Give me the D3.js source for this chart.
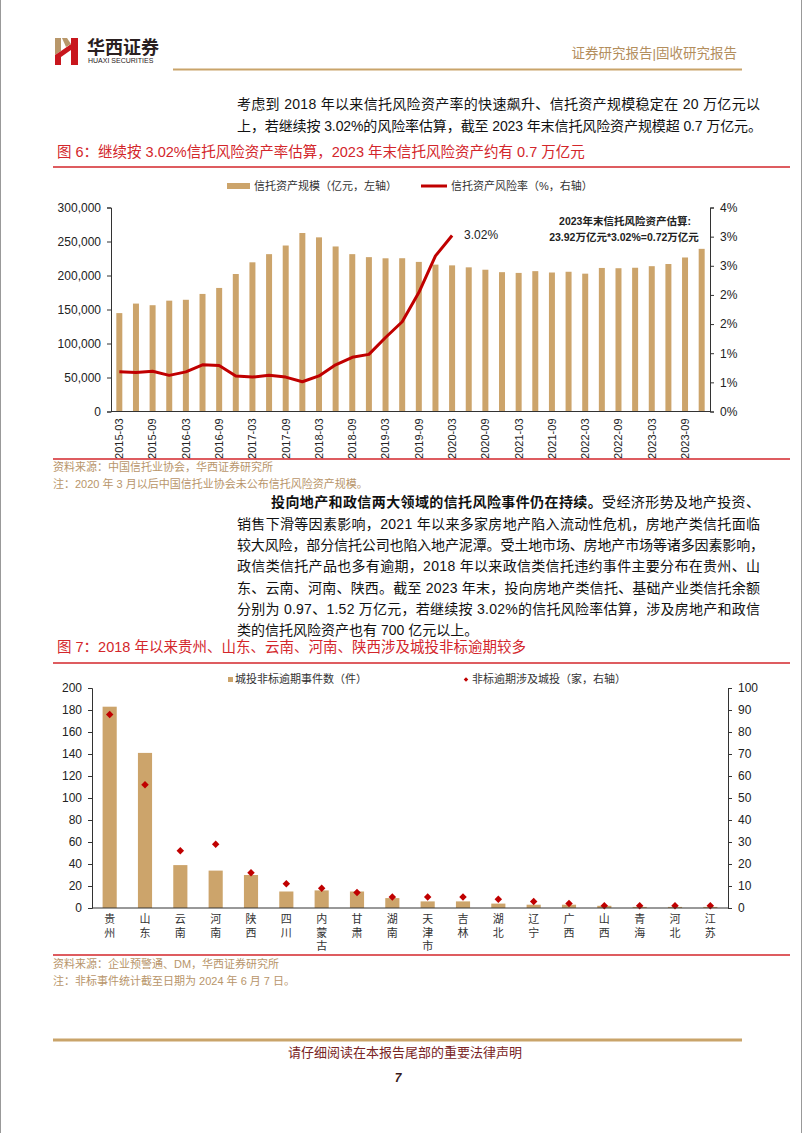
<!DOCTYPE html>
<html>
<head>
<meta charset="utf-8">
<script src="https://cdn.jsdelivr.net/npm/d3@7"></script>
<style>
  body { margin: 0; background: #fff; }
  svg { display: block; }
  text { font-family: "Liberation Sans", "Noto Sans CJK SC", sans-serif; }
</style>
</head>
<body>
<div id="page"></div>
<script>
// DATA — figure 6
const quarters = ["2015-03","2015-06","2015-09","2015-12","2016-03","2016-06","2016-09","2016-12",
  "2017-03","2017-06","2017-09","2017-12","2018-03","2018-06","2018-09","2018-12",
  "2019-03","2019-06","2019-09","2019-12","2020-03","2020-06","2020-09","2020-12",
  "2021-03","2021-06","2021-09","2021-12","2022-03","2022-06","2022-09","2022-12",
  "2023-03","2023-06","2023-09","2023-12"];
const quarterTicks = ["2015-03","2015-09","2016-03","2016-09","2017-03","2017-09","2018-03","2018-09",
  "2019-03","2019-09","2020-03","2020-09","2021-03","2021-09","2022-03","2022-09","2023-03","2023-09"];
// 信托资产规模（亿元）
const trustAssets = [144700,158700,156300,163000,164300,172900,181700,202200,
  219400,231400,244100,262500,256100,242700,231400,227000,
  225300,225400,220000,216000,214900,212000,208500,204900,
  203800,206400,204400,205500,202700,211100,210700,211400,
  213700,216900,226500,239200];
// 信托资产风险率（%），到 2020-03 为止
const riskRate = [0.68,0.67,0.69,0.62,0.68,0.80,0.79,0.61,0.59,0.62,0.59,0.51,
  0.61,0.80,0.93,0.98,1.27,1.54,2.04,2.67,3.02];
const leftTicks = [0,50000,100000,150000,200000,250000,300000];
const rightTicks = [0,0.5,1,1.5,2,2.5,3,3.5];

// DATA — figure 7
const provinces = ["贵州","山东","云南","河南","陕西","四川","内蒙古","甘肃","湖南",
  "天津市","吉林","湖北","辽宁","广西","山西","青海","河北","江苏"];
const eventCounts = [183,141,39,34,30,15,16,15,9,6,6,4,3,3,2,1,1,1];   // 件，左轴
const cityInvest = [88,56,26,29,16,11,9,7,5,5,5,4,3,2,1,1,1,1];        // 家，右轴
const leftTicks2 = [0,20,40,60,80,100,120,140,160,180,200];
const rightTicks2 = [0,10,20,30,40,50,60,70,80,90,100];

// COLOURS
const gold = "#cca46b", red = "#c00000", titleRed = "#d3262b", tan = "#b8956a", ink = "#222";

const svg = d3.select("#page").append("svg")
  .attr("width", 802).attr("height", 1133);

// page edges
svg.append("line").attr("x1", 0.5).attr("x2", 0.5).attr("y1", 0).attr("y2", 1133).attr("stroke", "#999");
svg.append("line").attr("x1", 801.5).attr("x2", 801.5).attr("y1", 0).attr("y2", 1133).attr("stroke", "#999");

// HEADER
const logo = svg.append("g");
logo.append("polygon").attr("points", "55,38 61,38 61,51 55,55").attr("fill", "#b8976a");
logo.append("polygon").attr("points", "55,55 61,51 61,65 55,65").attr("fill", "#c8161d");
logo.append("polygon").attr("points", "61,51 71,44 71,50 61,57").attr("fill", "#c8161d");
logo.append("polygon").attr("points", "71,38 78,38 78,65 71,65").attr("fill", "#c8161d");
logo.append("polygon").attr("points", "62,38 67,38 71,44 66,47").attr("fill", "#b8976a");
svg.append("text").attr("x", 87).attr("y", 54).attr("font-size", 18).attr("font-weight", "bold")
  .attr("fill", "#2a2020").attr("font-family", "Noto Sans CJK SC").text("华西证券");
svg.append("text").attr("x", 88).attr("y", 63).attr("font-size", 7).attr("fill", "#2a2020")
  .text("HUAXI SECURITIES");
svg.append("text").attr("x", 737).attr("y", 58).attr("text-anchor", "end").attr("font-size", 13.5)
  .attr("fill", "#b38e5d").text("证券研究报告|固收研究报告");
svg.append("line").attr("x1", 173).attr("x2", 742).attr("y1", 69.5).attr("y2", 69.5)
  .attr("stroke", "#c9a46a").attr("stroke-width", 2);

// helper: stretch a line of text to a given width
function justify(t, width) {
  const len = t.node().getComputedTextLength();
  const n = t.text().length;
  t.attr("letter-spacing", ((width - len) / (n - 1)).toFixed(3));
}
function bodyLine(x, y, parts, width) {
  const t = svg.append("text").attr("x", x).attr("y", y).attr("font-size", 14).attr("fill", "#111");
  parts.forEach(p => t.append("tspan").attr("font-weight", p.bold ? "bold" : null).text(p.s));
  if (width) justify(t, width);
  return t;
}

// PARAGRAPH 1
bodyLine(237, 109, [{ s: "考虑到 2018 年以来信托风险资产率的快速飙升、信托资产规模稳定在 20 万亿元以" }], 523);
bodyLine(237, 131, [{ s: "上，若继续按 3.02%的风险率估算，截至 2023 年末信托风险资产规模超 0.7 万亿元。" }], 525);

// FIGURE 6 TITLE
svg.append("text").attr("x", 57).attr("y", 157).attr("font-size", 14.5).attr("fill", titleRed)
  .text("图 6：继续按 3.02%信托风险资产率估算，2023 年末信托风险资产约有 0.7 万亿元");
svg.append("line").attr("x1", 53).attr("x2", 790).attr("y1", 167).attr("y2", 167)
  .attr("stroke", titleRed).attr("stroke-width", 1.5);

// FIGURE 6 CHART
const x1 = d3.scaleBand().domain(quarters).range([111, 710]).paddingInner(0.64).paddingOuter(0.32);
const yL1 = d3.scaleLinear().domain([0, 300000]).range([411.5, 207.5]);
const yR1 = d3.scaleLinear().domain([0, 3.5]).range([411.5, 207.5]);

const c1 = svg.append("g");
c1.selectAll("rect.bar").data(trustAssets).join("rect")
  .attr("class", "bar")
  .attr("x", (d, i) => x1(quarters[i]))
  .attr("width", x1.bandwidth())
  .attr("y", d => yL1(d))
  .attr("height", d => yL1(0) - yL1(d))
  .attr("fill", gold);

const line1 = d3.line()
  .x((d, i) => x1(quarters[i]) + x1.bandwidth() / 2)
  .y(d => yR1(d));
c1.append("path").datum(riskRate)
  .attr("fill", "none").attr("stroke", red).attr("stroke-width", 3)
  .attr("stroke-linejoin", "round").attr("d", line1);

function styleAxis(g) {
  g.selectAll(".domain, .tick line").attr("stroke", "#333");
  g.selectAll(".tick text").attr("fill", ink).attr("font-size", 12)
    .attr("font-family", "Liberation Sans, Arial, sans-serif");
}
c1.append("g").attr("transform", "translate(111,0)")
  .call(d3.axisLeft(yL1).tickValues(leftTicks).tickFormat(d3.format(",")).tickSize(4).tickPadding(6).tickSizeOuter(4))
  .call(styleAxis);
c1.append("g").attr("transform", "translate(710,0)")
  .call(d3.axisRight(yR1).tickValues(rightTicks).tickFormat(d => Math.round(d) + "%").tickSize(4).tickPadding(6).tickSizeOuter(4))
  .call(styleAxis);
const xa1 = c1.append("g").attr("transform", "translate(0,411.5)")
  .call(d3.axisBottom(x1).tickValues(quarterTicks).tickSize(0).tickSizeOuter(0))
  .call(styleAxis);
xa1.select(".domain").attr("d", "M111,0H710");
xa1.selectAll(".tick text").attr("font-size", 11)
  .attr("transform", "rotate(-90)").attr("x", -7).attr("y", 0).attr("dy", "0.35em")
  .attr("text-anchor", "end");

// annotations
c1.append("text").attr("x", x1("2020-03") + x1.bandwidth() / 2 + 12).attr("y", yR1(3.02) + 4)
  .attr("font-size", 12).attr("fill", ink).text("3.02%");
c1.append("text").attr("x", 625).attr("y", 225).attr("text-anchor", "middle").attr("font-size", 10.5)
  .attr("font-weight", "bold").attr("fill", ink).text("2023年末信托风险资产估算:");
c1.append("text").attr("x", 624).attr("y", 241).attr("text-anchor", "middle").attr("font-size", 10.5)
  .attr("font-weight", "bold").attr("fill", ink).text("23.92万亿元*3.02%=0.72万亿元");

// legend
const lg1 = svg.append("g").attr("font-size", 11).attr("fill", "#333");
lg1.append("rect").attr("x", 227).attr("y", 183).attr("width", 23).attr("height", 6).attr("fill", gold);
lg1.append("text").attr("x", 254).attr("y", 190).text("信托资产规模（亿元，左轴）");
lg1.append("line").attr("x1", 421).attr("x2", 447).attr("y1", 186).attr("y2", 186)
  .attr("stroke", red).attr("stroke-width", 3);
lg1.append("text").attr("x", 451).attr("y", 190).text("信托资产风险率（%，右轴）");

// source
svg.append("line").attr("x1", 53).attr("x2", 790).attr("y1", 459).attr("y2", 459)
  .attr("stroke", titleRed).attr("stroke-width", 1.5);
svg.append("text").attr("x", 53).attr("y", 471).attr("font-size", 11).attr("fill", tan)
  .text("资料来源：中国信托业协会，华西证券研究所");
svg.append("text").attr("x", 53).attr("y", 488).attr("font-size", 11).attr("fill", tan)
  .text("注：2020 年 3 月以后中国信托业协会未公布信托风险资产规模。");

// PARAGRAPH 2
bodyLine(271, 507, [{ s: "投向地产和政信两大领域的信托风险事件仍在持续。", bold: true }, { s: "受经济形势及地产投资、" }], 489);
bodyLine(237, 529, [{ s: "销售下滑等因素影响，2021 年以来多家房地产陷入流动性危机，房地产类信托面临" }], 523);
bodyLine(237, 550, [{ s: "较大风险，部分信托公司也陷入地产泥潭。受土地市场、房地产市场等诸多因素影响，" }], 527);
bodyLine(237, 571, [{ s: "政信类信托产品也多有逾期，2018 年以来政信类信托违约事件主要分布在贵州、山" }], 523);
bodyLine(237, 593, [{ s: "东、云南、河南、陕西。截至 2023 年末，投向房地产类信托、基础产业类信托余额" }], 523);
bodyLine(237, 614, [{ s: "分别为 0.97、1.52 万亿元，若继续按 3.02%的信托风险率估算，涉及房地产和政信" }], 523);
bodyLine(237, 635, [{ s: "类的信托风险资产也有 700 亿元以上。" }]);

// FIGURE 7 TITLE
svg.append("text").attr("x", 57).attr("y", 652).attr("font-size", 14.5).attr("fill", titleRed)
  .text("图 7：2018 年以来贵州、山东、云南、河南、陕西涉及城投非标逾期较多");
svg.append("line").attr("x1", 53).attr("x2", 790).attr("y1", 663).attr("y2", 663)
  .attr("stroke", titleRed).attr("stroke-width", 1.5);

// FIGURE 7 CHART
const x2 = d3.scaleBand().domain(provinces).range([92, 728]).paddingInner(0.6).paddingOuter(0.3);
const yL2 = d3.scaleLinear().domain([0, 200]).range([908, 688]);
const yR2 = d3.scaleLinear().domain([0, 100]).range([908, 688]);

const c2 = svg.append("g");
c2.selectAll("rect.bar").data(eventCounts).join("rect")
  .attr("class", "bar")
  .attr("x", (d, i) => x2(provinces[i]))
  .attr("width", x2.bandwidth())
  .attr("y", d => yL2(d))
  .attr("height", d => yL2(0) - yL2(d))
  .attr("fill", gold);

const diamond = d3.symbol().type(d3.symbolSquare).size(28);
c2.selectAll("path.pt").data(cityInvest).join("path")
  .attr("class", "pt")
  .attr("d", diamond)
  .attr("transform", (d, i) => `translate(${x2(provinces[i]) + x2.bandwidth() / 2},${yR2(d)}) rotate(45)`)
  .attr("fill", red);

c2.append("g").attr("transform", "translate(92,0)")
  .call(d3.axisLeft(yL2).tickValues(leftTicks2).tickSize(4).tickPadding(6).tickSizeOuter(4))
  .call(styleAxis);
c2.append("g").attr("transform", "translate(728,0)")
  .call(d3.axisRight(yR2).tickValues(rightTicks2).tickSize(4).tickPadding(6).tickSizeOuter(4))
  .call(styleAxis);
const xa2 = c2.append("g").attr("transform", "translate(0,908)")
  .call(d3.axisBottom(x2).tickSize(0).tickSizeOuter(0).tickFormat(""))
  .call(styleAxis);
xa2.select(".domain").attr("d", "M92,0H728");
// vertical province labels, one character per line
xa2.selectAll(".tick").each(function (d) {
  const t = d3.select(this).select("text").text(null)
    .attr("y", 15).attr("dy", 0).attr("font-size", 11).attr("fill", "#333");
  Array.from(d).forEach((ch, k) => {
    t.append("tspan").attr("x", 0).attr("y", 15 + k * 13.5).text(ch);
  });
});

// legend
const lg2 = svg.append("g").attr("font-size", 11).attr("fill", "#333");
lg2.append("rect").attr("x", 228).attr("y", 677).attr("width", 5).attr("height", 5).attr("fill", gold);
lg2.append("text").attr("x", 235).attr("y", 683).text("城投非标逾期事件数（件）");
lg2.append("path").attr("d", d3.symbol().type(d3.symbolSquare).size(10))
  .attr("transform", "translate(466,679.5) rotate(45)").attr("fill", red);
lg2.append("text").attr("x", 472).attr("y", 683).text("非标逾期涉及城投（家，右轴）");

// source
svg.append("line").attr("x1", 53).attr("x2", 790).attr("y1", 955).attr("y2", 955)
  .attr("stroke", titleRed).attr("stroke-width", 1.5);
svg.append("text").attr("x", 53).attr("y", 968).attr("font-size", 11).attr("fill", tan)
  .text("资料来源：企业预警通、DM，华西证券研究所");
svg.append("text").attr("x", 53).attr("y", 985).attr("font-size", 11).attr("fill", tan)
  .text("注：非标事件统计截至日期为 2024 年 6 月 7 日。");

// FOOTER
svg.append("line").attr("x1", 53).attr("x2", 742).attr("y1", 1040).attr("y2", 1040)
  .attr("stroke", "#c9a46a").attr("stroke-width", 3);
svg.append("text").attr("x", 405).attr("y", 1057).attr("text-anchor", "middle").attr("font-size", 13)
  .attr("fill", "#7a2424").text("请仔细阅读在本报告尾部的重要法律声明");
svg.append("text").attr("x", 398).attr("y", 1082).attr("text-anchor", "middle").attr("font-size", 12)
  .attr("font-weight", "bold").attr("font-style", "italic").attr("fill", "#3a1a1a").text("7");
</script>
</body>
</html>
